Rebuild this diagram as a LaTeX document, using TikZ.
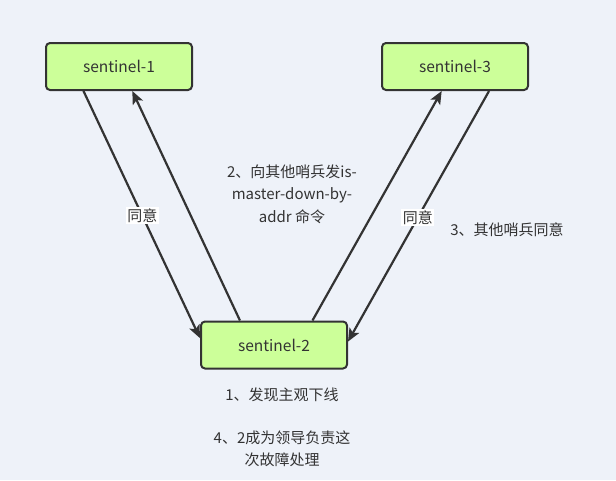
\documentclass[tikz,border=0pt]{standalone}
\usepackage{fontspec}
\setmainfont{Noto Sans CJK SC}
\usetikzlibrary{arrows.meta,calc}
\definecolor{bgc}{HTML}{EEF2F9}
\definecolor{boxfill}{HTML}{CCFF99}
\definecolor{ink}{HTML}{333333}
\tikzset{
  sbox/.style={draw=ink, line width=2pt, fill=boxfill, rounded corners=4pt,
    minimum width=146pt, minimum height=47pt, inner sep=0pt,
    font=\fontsize{15.5pt}{18pt}\selectfont, text=ink},
  conn/.style={draw=ink, line width=2.2pt, -{Stealth[length=13pt,width=11pt,inset=3pt]}},
  lbl/.style={font=\fontsize{15pt}{22.5pt}\selectfont, text=ink, align=center, inner sep=1pt},
  onlbl/.style={lbl, fill=white, inner sep=1.5pt}
}
\begin{document}
\begin{tikzpicture}[x=1pt,y=-1pt]
\fill[bgc] (0,0) rectangle (616,480);
\useasboundingbox (0,0) rectangle (616,480);
\node[sbox] (s1) at (119,66.5) {sentinel-1};
\node[sbox] (s3) at (455,66.5) {sentinel-3};
\node[sbox] (s2) at (274,345) {sentinel-2};
% connectors
\coordinate (a1s) at ($(s1.south west)!0.26!(s1.south east)$);
\coordinate (a1e) at ($(s2.north west)!0.36!(s2.south west)$);
\coordinate (a2s) at ($(s2.north west)!0.27!(s2.north east)$);
\coordinate (a2e) at ($(s1.south west)!0.59!(s1.south east)$);
\coordinate (a3s) at ($(s2.north west)!0.76!(s2.north east)$);
\coordinate (a3e) at ($(s3.south west)!0.41!(s3.south east)$);
\coordinate (a4s) at ($(s3.south west)!0.73!(s3.south east)$);
\coordinate (a4e) at ($(s2.north east)!0.43!(s2.south east)$);
\draw[conn] (a1s) -- (a1e) node[onlbl, pos=0.505] (ag1) {同意};
\draw[conn] (a2s) -- (a2e);
\draw[conn] (a3s) -- (a3e);
\draw[conn] (a4s) -- (a4e) node[onlbl, pos=0.505] (ag3) {同意};
% labels
\node[lbl] (t2) at (292,194) {2、向其他哨兵发is-\\master-down-by-\\addr 命令};
\node[lbl] (t3) at (507,230) {3、其他哨兵同意};
\node[lbl] (t1) at (282,395) {1、发现主观下线};
\node[lbl] (t4) at (282,449) {4、2成为领导负责这\\次故障处理};
\end{tikzpicture}
\end{document}
